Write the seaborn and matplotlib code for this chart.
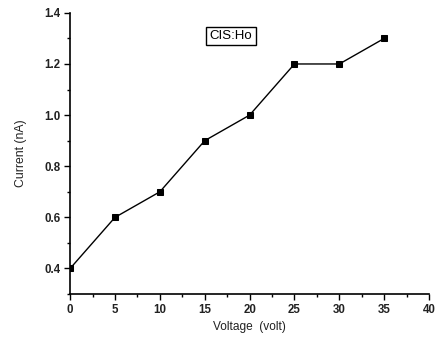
import matplotlib
matplotlib.use("Agg")
import matplotlib.pyplot as plt
import seaborn as sns
import pandas as pd
from matplotlib.ticker import MultipleLocator

voltage = [0, 5, 10, 15, 20, 25, 30, 35]
current = [0.4, 0.6, 0.7, 0.9, 1.0, 1.2, 1.2, 1.3]
x_ticks = [0, 5, 10, 15, 20, 25, 30, 35, 40]
y_ticks = [0.4, 0.6, 0.8, 1.0, 1.2, 1.4]

sns.set_theme(style="ticks")
plt.rcParams['font.family'] = ['Liberation Sans', 'DejaVu Sans']

df = pd.DataFrame({"Voltage": voltage, "Current": current})

fig = plt.figure(figsize=(4.41, 3.38), dpi=100)
ax = fig.add_axes([0.159, 0.130, 0.814, 0.832])
sns.lineplot(data=df, x="Voltage", y="Current", ax=ax, color="black", lw=1.0,
             marker="s", markersize=4.5, markeredgecolor="black", markerfacecolor="black")

ax.set_xlim(0, 40)
ax.set_ylim(0.3, 1.4)
ax.set_xticks(x_ticks)
ax.set_yticks(y_ticks)
ax.set_xticklabels([str(t) for t in x_ticks], fontsize=8.3, fontweight="bold", color="#222222")
ax.set_yticklabels([f"{t:.1f}" for t in y_ticks], fontsize=8.3, fontweight="bold", color="#222222")
ax.xaxis.set_minor_locator(MultipleLocator(2.5))
ax.yaxis.set_minor_locator(MultipleLocator(0.1))
ax.tick_params(which="major", direction="out", length=4, width=1, color="black", pad=3)
ax.tick_params(which="minor", direction="out", length=2.5, width=1, color="black")
for s in ["top", "right"]:
    ax.spines[s].set_visible(False)
for s in ["left", "bottom"]:
    ax.spines[s].set_color("black")
    ax.spines[s].set_linewidth(1.2)

ax.set_xlabel("Voltage  (volt)", fontsize=8.6, color="#222222", labelpad=4)
ax.set_ylabel("Current (nA)", fontsize=8.8, color="#222222", labelpad=12)

ax.text(0.448, 0.918, "CIS:Ho", transform=ax.transAxes, ha="center", va="center",
        fontsize=9.5, color="black",
        bbox=dict(boxstyle="square,pad=0.25", facecolor="white", edgecolor="black", lw=1))

fig.savefig("out.png", dpi=100)
